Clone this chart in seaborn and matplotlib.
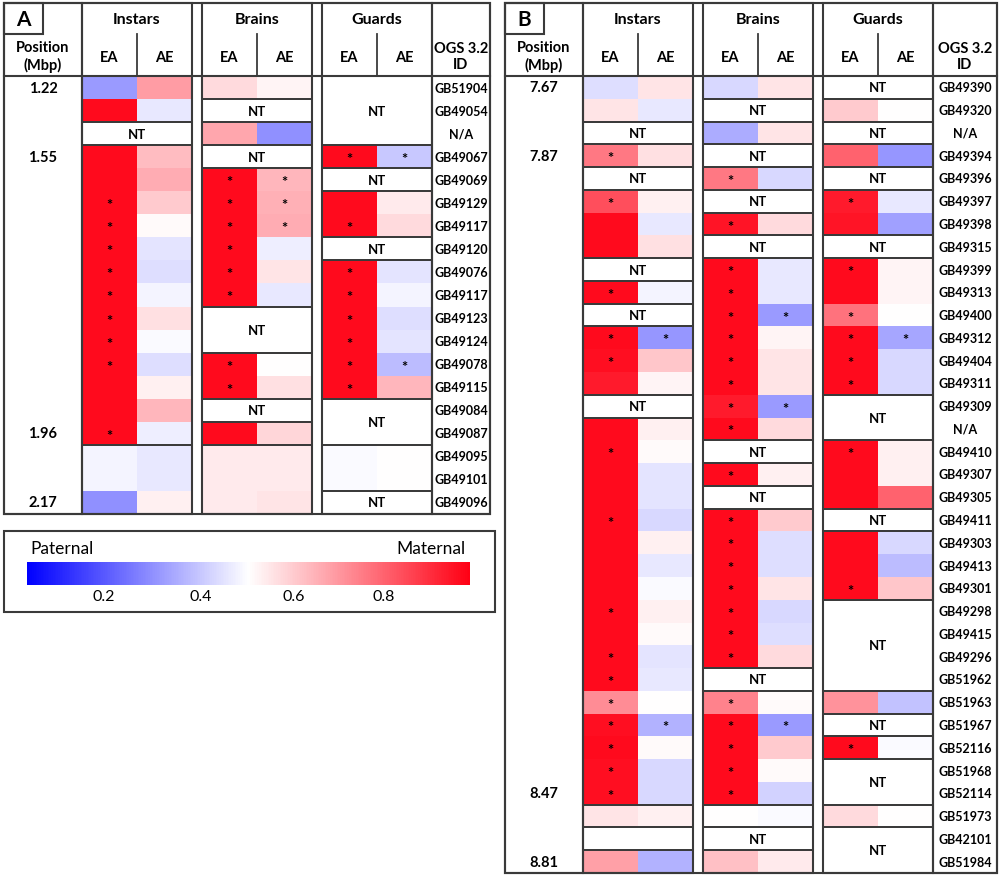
import numpy as np
import pandas as pd
import matplotlib
matplotlib.use('Agg')
import matplotlib.pyplot as plt
import seaborn as sns
from matplotlib.colors import LinearSegmentedColormap, TwoSlopeNorm
from matplotlib.patches import Rectangle

NT = np.nan

# ---------------- panel A ----------------
a_ids = ['GB51904', 'GB49054', 'N/A', 'GB49067', 'GB49069', 'GB49129', 'GB49117',
         'GB49120', 'GB49076', 'GB49117', 'GB49123', 'GB49124', 'GB49078', 'GB49115',
         'GB49084', 'GB49087', 'GB49095', 'GB49101', 'GB49096']
a_pos = {0: '1.22', 3: '1.55', 15: '1.96', 18: '2.17'}

a_instars_ea = [0.32, 0.97, NT, 0.97, 0.97, 0.97, 0.97, 0.97, 0.97, 0.97,
                0.97, 0.97, 0.97, 0.97, 0.97, 0.97, 0.48, 0.48, 0.30]
a_instars_ae = [0.69, 0.46, NT, 0.63, 0.66, 0.60, 0.51, 0.45, 0.44, 0.48,
                0.56, 0.49, 0.44, 0.53, 0.64, 0.47, 0.46, 0.46, 0.53]
a_instars_ea_star = [5, 6, 7, 8, 9, 10, 11, 12, 15]
a_instars_ae_star = []

a_brains_ea = [0.57, NT, 0.67, NT, 0.97, 0.97, 0.97, 0.97, 0.97, 0.97,
               NT, NT, 0.97, 0.97, NT, 0.97, 0.54, 0.54, 0.54]
a_brains_ae = [0.52, NT, 0.30, NT, 0.64, 0.65, 0.66, 0.47, 0.55, 0.46,
               NT, NT, 0.50, 0.56, NT, 0.58, 0.54, 0.54, 0.55]
a_brains_ea_star = [4, 5, 6, 7, 8, 9, 12, 13]
a_brains_ae_star = [4, 5, 6]

a_guards_ea = [NT, NT, NT, 0.97, NT, 0.97, 0.97, NT, 0.97, 0.97,
               0.97, 0.97, 0.97, 0.97, NT, NT, 0.49, 0.49, NT]
a_guards_ae = [NT, NT, NT, 0.40, NT, 0.54, 0.57, NT, 0.45, 0.48,
               0.44, 0.45, 0.38, 0.64, NT, NT, 0.50, 0.50, NT]
a_guards_ea_star = [3, 6, 8, 9, 10, 11, 12, 13]
a_guards_ae_star = [3, 12]

a_breaks = [16]

# ---------------- panel B ----------------
b_ids = ['GB49390', 'GB49320', 'N/A', 'GB49394', 'GB49396', 'GB49397', 'GB49398',
         'GB49315', 'GB49399', 'GB49313', 'GB49400', 'GB49312', 'GB49404', 'GB49311',
         'GB49309', 'N/A', 'GB49410', 'GB49307', 'GB49305', 'GB49411', 'GB49303',
         'GB49413', 'GB49301', 'GB49298', 'GB49415', 'GB49296', 'GB51962', 'GB51963',
         'GB51967', 'GB52116', 'GB51968', 'GB52114', 'GB51973', 'GB42101', 'GB51984']
b_pos = {0: '7.67', 3: '7.87', 31: '8.47', 34: '8.81'}

b_instars_ea = [0.44, 0.55, NT, 0.76, NT, 0.84, 0.97, 0.97, NT, 0.97,
                NT, 0.97, 0.96, 0.94, NT, 0.97, 0.97, 0.97, 0.97, 0.97,
                0.97, 0.97, 0.97, 0.97, 0.97, 0.97, 0.97, 0.72, 0.96, 0.97,
                0.96, 0.96, 0.55, NT, 0.68]
b_instars_ae = [0.55, 0.46, NT, 0.56, NT, 0.53, 0.46, 0.56, NT, 0.48,
                NT, 0.31, 0.61, 0.52, NT, 0.53, 0.51, 0.45, 0.45, 0.43,
                0.53, 0.46, 0.49, 0.53, 0.51, 0.45, 0.46, 0.50, 0.36, 0.51,
                0.43, 0.43, 0.53, NT, 0.36]
b_instars_ea_star = [3, 5, 9, 11, 12, 16, 19, 23, 25, 26, 27, 28, 29, 30, 31]
b_instars_ae_star = [11, 28]
b_instars_blank = [33]   # untested row drawn without the NT label

b_brains_ea = [0.43, NT, 0.35, NT, 0.76, NT, 0.95, NT, 0.97, 0.97,
               0.97, 0.97, 0.97, 0.97, 0.94, 0.97, NT, 0.97, NT, 0.97,
               0.97, 0.97, 0.97, 0.97, 0.97, 0.97, NT, 0.74, 0.97, 0.97,
               0.97, 0.97, 0.50, NT, 0.62]
b_brains_ae = [0.55, NT, 0.55, NT, 0.43, NT, 0.57, NT, 0.46, 0.46,
               0.32, 0.52, 0.55, 0.55, 0.32, 0.57, NT, 0.53, NT, 0.60,
               0.44, 0.44, 0.55, 0.43, 0.44, 0.57, NT, 0.51, 0.32, 0.60,
               0.51, 0.42, 0.49, NT, 0.54]
b_brains_ea_star = [4, 6, 8, 9, 10, 11, 12, 13, 14, 15, 17, 19, 20, 21, 22,
                    23, 24, 25, 27, 28, 29, 30, 31]
b_brains_ae_star = [10, 14, 28]

b_guards_ea = [NT, 0.60, NT, 0.80, NT, 0.94, 0.95, NT, 0.97, 0.97,
               0.77, 0.97, 0.97, 0.97, NT, NT, 0.97, 0.97, 0.97, NT,
               0.97, 0.97, 0.97, NT, NT, NT, NT, 0.71, NT, 0.97,
               NT, NT, 0.57, NT, NT]
b_guards_ae = [NT, 0.50, NT, 0.31, NT, 0.46, 0.33, NT, 0.52, 0.52,
               0.50, 0.34, 0.43, 0.43, NT, NT, 0.53, 0.53, 0.80, NT,
               0.43, 0.38, 0.61, NT, NT, NT, NT, 0.39, NT, 0.49,
               NT, NT, 0.50, NT, NT]
b_guards_ea_star = [5, 8, 10, 11, 12, 13, 16, 22, 29]
b_guards_ae_star = [11]

b_breaks = [32]

tissues = ['Instars', 'Brains', 'Guards']

# ---------------- drawing ----------------
W, H = 1000, 878
LC = '#3a3a3a'
LW = 1.5
FONT = ['Lato', 'DejaVu Sans']
plt.rcParams['font.family'] = FONT

cmap = LinearSegmentedColormap.from_list('pm', ['#0000ff', '#ffffff', '#ff0014'])
norm = TwoSlopeNorm(vmin=0.04, vcenter=0.5, vmax=0.99)

fig = plt.figure(figsize=(10, 8.78), dpi=100)
fig.patch.set_facecolor('white')
ov = fig.add_axes([0, 0, 1, 1], zorder=10)
ov.set_xlim(0, W)
ov.set_ylim(H, 0)
ov.axis('off')
ov.patch.set_alpha(0)


def frac(x, y, w, h):
    return [x / W, 1 - (y + h) / H, w / W, h / H]


def box(x, y, w, h, lw=LW):
    ov.add_patch(Rectangle((x, y), w, h, fill=False, ec=LC, lw=lw))


def draw_tissue(tx, top, rh, ea, ae, ea_st, ae_st, breaks, blank):
    n = len(ea)
    df = pd.DataFrame({'EA': ea, 'AE': ae})
    ax = fig.add_axes(frac(tx, top, 110, rh * n))
    sns.heatmap(df, ax=ax, cmap=cmap, norm=norm, mask=df.isna(), cbar=False,
                xticklabels=False, yticklabels=False)
    ax.set_facecolor('white')
    ax.set_xlabel('')
    ax.set_ylabel('')
    for col, rows in ((0, ea_st), (1, ae_st)):
        for r in rows:
            ov.text(tx + 27.5 + 55 * col, top + (r + 0.5) * rh + 2.5, '*',
                    ha='center', va='center', fontsize=10.5, fontweight='bold')
    missing = df['EA'].isna().values
    start = 0
    for i in range(1, n + 1):
        if i == n or missing[i] != missing[start] or (i in breaks and not missing[i]) \
                or (i in blank) or (start in blank):
            box(tx, top + start * rh, 110, (i - start) * rh, lw=1.3)
            if missing[start] and start not in blank:
                ov.text(tx + 55, top + (start + i) / 2 * rh, 'NT', ha='center',
                        va='center', fontsize=9.5, fontweight='bold')
            start = i
    return ax


def draw_panel(label, x0, x1, pos_x1, tissue_x, bottom, ids, pos, data, breaks):
    top, h1, h2 = 4, 35, 77
    n = len(ids)
    rh = (bottom - h2) / n
    pos_c = (x0 + pos_x1) / 2
    id_x0 = tissue_x[-1] + 110
    id_c = (id_x0 + x1) / 2
    mappable = None
    for t, tx in enumerate(tissue_x):
        ea, ae, ea_st, ae_st, blank = data[t]
        ax = draw_tissue(tx, h2, rh, ea, ae, ea_st, ae_st, breaks, blank)
        mappable = ax.collections[0]
        box(tx, top, 110, bottom - top)
        ov.text(tx + 55, 20, tissues[t], ha='center', va='center',
                fontsize=11.5, fontweight='bold')
        ov.text(tx + 27.5, 58, 'EA', ha='center', va='center', fontsize=10.5, fontweight='bold')
        ov.text(tx + 82.5, 58, 'AE', ha='center', va='center', fontsize=10.5, fontweight='bold')
        ov.plot([tx + 55, tx + 55], [h1, h2], color=LC, lw=1.3)
    box(x0, top, x1 - x0, bottom - top)
    box(x0, top, pos_x1 - x0, bottom - top)
    box(id_x0, top, x1 - id_x0, bottom - top)
    ov.plot([x0, x1], [h2, h2], color=LC, lw=LW)
    box(x0, top, 39, h1 - top)
    ov.text(x0 + 19, 20, label, ha='center', va='center', fontsize=15, fontweight='bold')
    ov.text(pos_c, 57, 'Position\n(Mbp)', ha='center', va='center', fontsize=10.5,
            fontweight='bold', linespacing=1.25)
    ov.text(id_c, 57, 'OGS 3.2\nID', ha='center', va='center', fontsize=10.5,
            fontweight='bold', linespacing=1.25)
    for r, gid in enumerate(ids):
        ov.text(id_c, h2 + (r + 0.5) * rh, gid, ha='center', va='center',
                fontsize=9, fontweight='bold')
    for r, p in pos.items():
        ov.text(pos_c, h2 + (r + 0.5) * rh, p, ha='center', va='center',
                fontsize=10.5, fontweight='bold')
    return mappable


a_data = [(a_instars_ea, a_instars_ae, a_instars_ea_star, a_instars_ae_star, []),
          (a_brains_ea, a_brains_ae, a_brains_ea_star, a_brains_ae_star, []),
          (a_guards_ea, a_guards_ae, a_guards_ea_star, a_guards_ae_star, [])]
b_data = [(b_instars_ea, b_instars_ae, b_instars_ea_star, b_instars_ae_star, b_instars_blank),
          (b_brains_ea, b_brains_ae, b_brains_ea_star, b_brains_ae_star, []),
          (b_guards_ea, b_guards_ae, b_guards_ea_star, b_guards_ae_star, [])]

m = draw_panel('A', 4, 490, 82, [82, 202, 322], 515, a_ids, a_pos, a_data, a_breaks)
draw_panel('B', 505, 997, 583, [583, 703, 823], 874, b_ids, b_pos, b_data, b_breaks)

# legend
box(4, 532, 491, 81)
ov.text(30, 549, 'Paternal', ha='left', va='center', fontsize=12.5)
ov.text(465, 549, 'Maternal', ha='right', va='center', fontsize=12.5)
cax = fig.add_axes(frac(27, 563, 443, 23))
cb = fig.colorbar(m, cax=cax, orientation='horizontal', ticks=[0.2, 0.4, 0.6, 0.8])
cb.outline.set_visible(False)
cax.tick_params(length=0, labelsize=11.5, pad=3)

fig.savefig('out.png', dpi=100, facecolor='white')
